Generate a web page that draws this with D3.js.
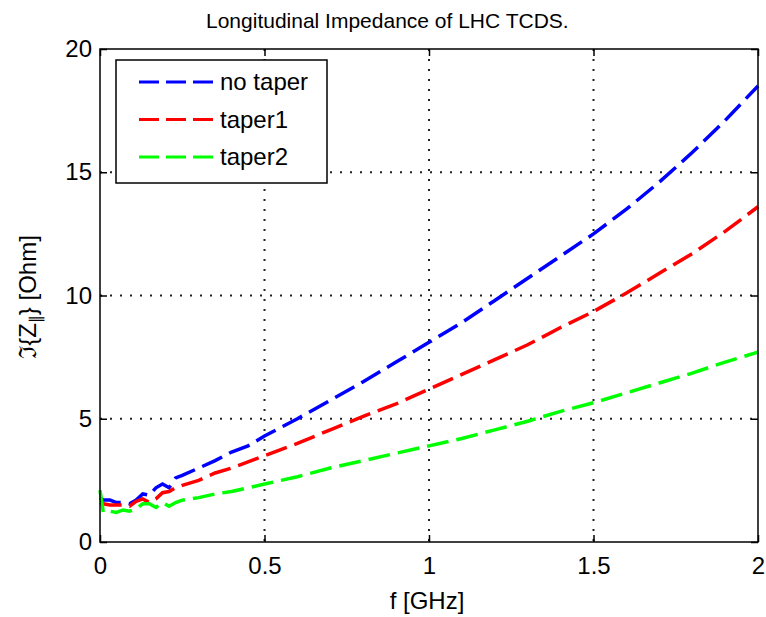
<!DOCTYPE html>
<html>
<head>
<meta charset="UTF-8">
<title>Longitudinal Impedance of LHC TCDS</title>
<script src="https://cdn.jsdelivr.net/npm/d3@7"></script>
<style>
  body { margin: 0; background: #fff; }
  text { font-family: "Liberation Sans", Arial, sans-serif; fill: #000; }
</style>
</head>
<body>
<script>
// data
var freq = [0, 0.01, 0.03, 0.05, 0.07, 0.09, 0.11, 0.13, 0.15, 0.17, 0.19, 0.21, 0.23, 0.25,
            0.3, 0.35, 0.4, 0.45, 0.5, 0.6, 0.7, 0.8, 0.9, 1.0, 1.1, 1.2, 1.3, 1.4, 1.5,
            1.6, 1.7, 1.8, 1.9, 2.0];
var noTaper = [1.8, 1.7, 1.7, 1.6, 1.6, 1.55, 1.7, 1.95, 1.9, 2.2, 2.35, 2.2, 2.6, 2.7,
               3.0, 3.3, 3.65, 3.9, 4.3, 5.0, 5.75, 6.5, 7.3, 8.1, 8.9, 9.8, 10.7, 11.6, 12.5,
               13.5, 14.6, 15.8, 17.1, 18.5];
var taper1 = [1.6, 1.55, 1.5, 1.5, 1.5, 1.45, 1.65, 1.75, 1.6, 1.75, 2.0, 2.05, 2.2, 2.3,
              2.5, 2.8, 3.0, 3.25, 3.5, 4.0, 4.55, 5.1, 5.6, 6.2, 6.8, 7.4, 8.0, 8.7, 9.35,
              10.1, 10.9, 11.7, 12.6, 13.6];
var taper2 = [2.1, 1.2, 1.25, 1.2, 1.3, 1.25, 1.35, 1.55, 1.55, 1.4, 1.6, 1.45, 1.6, 1.7,
              1.8, 1.95, 2.05, 2.2, 2.35, 2.65, 3.0, 3.3, 3.6, 3.9, 4.2, 4.55, 4.9, 5.3, 5.65,
              6.05, 6.45, 6.85, 7.3, 7.7];
var seriesNames = ["no taper", "taper1", "taper2"];
var seriesColors = ["#0000ff", "#ff0000", "#00ff00"];
var xTicks = [0, 0.5, 1, 1.5, 2];
var yTicks = [0, 5, 10, 15, 20];

var W = 766, H = 617;
var margin = {top: 49, right: 8, bottom: 75, left: 100};
var width = W - margin.left - margin.right,
    height = H - margin.top - margin.bottom;
var fontSize = 24;

var svg = d3.select("body").append("svg")
    .attr("width", W).attr("height", H);
var g = svg.append("g")
    .attr("transform", "translate(" + margin.left + "," + margin.top + ")");

var x = d3.scaleLinear().domain([0, 2]).range([0, width]);
var y = d3.scaleLinear().domain([0, 20]).range([height, 0]);

// grid (dotted)
g.selectAll(".gx").data(xTicks.slice(1, -1)).enter().append("line")
    .attr("x1", d => x(d)).attr("x2", d => x(d))
    .attr("y1", 0).attr("y2", height)
    .attr("stroke", "#222").attr("stroke-width", 2)
    .attr("stroke-dasharray", "2,8");
g.selectAll(".gy").data(yTicks.slice(1, -1)).enter().append("line")
    .attr("x1", 0).attr("x2", width)
    .attr("y1", d => y(d)).attr("y2", d => y(d))
    .attr("stroke", "#222").attr("stroke-width", 2)
    .attr("stroke-dasharray", "2,8");

// series
var allSeries = [noTaper, taper1, taper2];
var line = d3.line()
    .x((d, i) => x(freq[i]))
    .y(d => y(d));
allSeries.forEach(function(vals, k) {
  g.append("path")
    .datum(vals)
    .attr("d", line)
    .attr("fill", "none")
    .attr("stroke", seriesColors[k])
    .attr("stroke-width", 3.5)
    .attr("stroke-dasharray", "22,8");
});

// axes with inward ticks on all sides
function styleAxis(sel) {
  sel.select(".domain").remove();
  sel.selectAll("line").attr("stroke", "#000").attr("stroke-width", 1.5);
  sel.selectAll("text").attr("font-size", fontSize)
    .style("font-family", "'Liberation Sans', Arial, sans-serif");
}
g.append("g").attr("transform", "translate(0," + height + ")")
  .call(d3.axisBottom(x).tickValues(xTicks).tickFormat(d3.format("")).tickSize(-7).tickPadding(15))
  .call(styleAxis);
g.append("g")
  .call(d3.axisTop(x).tickValues(xTicks).tickFormat("").tickSize(-7))
  .call(styleAxis);
g.append("g")
  .call(d3.axisLeft(y).tickValues(yTicks).tickSize(-7).tickPadding(8))
  .call(styleAxis);
g.append("g").attr("transform", "translate(" + width + ",0)")
  .call(d3.axisRight(y).tickValues(yTicks).tickFormat("").tickSize(-7))
  .call(styleAxis);

g.append("rect")
  .attr("width", width).attr("height", height)
  .attr("fill", "none").attr("stroke", "#000").attr("stroke-width", 1.5);

// labels
svg.append("text")
  .attr("x", 206).attr("y", 28)
  .attr("font-size", 21)
  .text("Longitudinal Impedance of LHC TCDS.");
svg.append("text")
  .attr("x", 427).attr("y", 609)
  .attr("text-anchor", "middle").attr("font-size", fontSize)
  .text("f [GHz]");
var yl = svg.append("text")
  .attr("transform", "translate(36,297) rotate(-90)")
  .attr("text-anchor", "middle").attr("font-size", fontSize);
yl.append("tspan").text("\u2111{Z");
yl.append("tspan").attr("font-size", 16).attr("dy", 5).text("\u2225");
yl.append("tspan").attr("dy", -5).text("} [Ohm]");

// legend
var lg = svg.append("g").attr("transform", "translate(116,60)");
lg.append("rect").attr("width", 211).attr("height", 123)
  .attr("fill", "#fff").attr("stroke", "#000").attr("stroke-width", 1.5);
seriesNames.forEach(function(name, k) {
  var yy = 22 + k * 37.5;
  lg.append("line")
    .attr("x1", 23).attr("x2", 97).attr("y1", yy).attr("y2", yy)
    .attr("stroke", seriesColors[k]).attr("stroke-width", 3)
    .attr("stroke-dasharray", "20,7");
  lg.append("text")
    .attr("x", 104).attr("y", yy + 8)
    .attr("font-size", fontSize)
    .text(name);
});
</script>
</body>
</html>
